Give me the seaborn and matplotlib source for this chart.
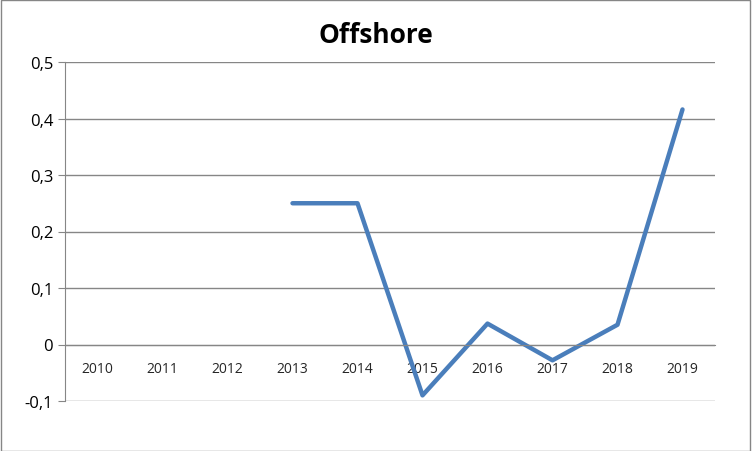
import matplotlib
matplotlib.use("Agg")
import matplotlib.pyplot as plt
import seaborn as sns
import numpy as np
import pandas as pd

years = ["2010","2011","2012","2013","2014","2015","2016","2017","2018","2019"]
values = [np.nan,np.nan,np.nan,0.25,0.25,-0.09,0.037,-0.028,0.035,0.416]
ytick_labels = ["-0,1","0","0,1","0,2","0,3","0,4","0,5"]

sns.set_style("white")
plt.rcParams['font.family'] = ['Open Sans', 'DejaVu Sans']

fig = plt.figure(figsize=(7.52,4.52), dpi=100)
ax = fig.add_axes([65/752, 50/452, 650/752, 339/452])
df = pd.DataFrame({"x": np.arange(len(years)), "v": values})
sns.lineplot(data=df, x="x", y="v", ax=ax, color="#4a7ebb", linewidth=3.2)

ax.set_xlim(-0.5, 9.5)
ax.set_ylim(-0.1, 0.5)
ax.set_yticks(np.linspace(-0.1, 0.5, 7))
ax.set_yticklabels(ytick_labels, fontsize=12, color="black")
ax.yaxis.grid(True, color="#868686", linewidth=1)
ax.set_xticks(np.arange(len(years)))
ax.set_xticklabels(years, fontsize=12, color="black")
ax.set_xticks(np.arange(-0.5, 10, 1), minor=True)
ax.tick_params(axis='x', which='major', length=0, pad=12)
ax.tick_params(axis='x', which='minor', length=5, color="#868686", direction='out')
ax.tick_params(axis='y', length=5, color="#868686", direction='out', left=True)
ax.spines['bottom'].set_position(('data', 0))
ax.spines['bottom'].set_color("#868686")
ax.spines['left'].set_color("#868686")
ax.spines['top'].set_visible(False)
ax.spines['right'].set_visible(False)
ax.set_xlabel(""); ax.set_ylabel("")
fig.text(0.5, 0.905, "Offshore", ha="center", fontsize=19, fontweight="bold", color="black")
fig.patches.append(plt.Rectangle((0.001,0.001),0.997,0.997, transform=fig.transFigure, fill=False, edgecolor="#868686", linewidth=1))
fig.savefig("out.png", dpi=100)
